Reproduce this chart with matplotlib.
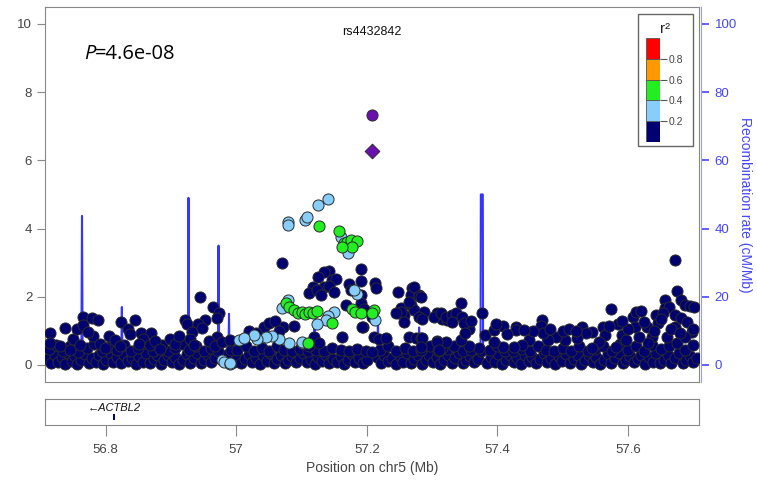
import matplotlib.pyplot as plt
from matplotlib.patches import Rectangle

plt.rcParams['font.family'] = ['Liberation Sans', 'DejaVu Sans']

# ---- data (position in Mb, -log10 p) ----
navy_band = [
    (56.711, 0.18), (56.716, 0.05), (56.722, 0.30), (56.727, 0.10), (56.733, 0.22), (56.738, 0.03),
    (56.742, 0.35), (56.748, 0.12), (56.753, 0.25), (56.757, 0.04), (56.763, 0.15), (56.769, 0.32),
    (56.774, 0.06), (56.779, 0.20), (56.785, 0.10), (56.790, 0.28), (56.796, 0.04), (56.801, 0.16),
    (56.807, 0.34), (56.812, 0.08), (56.818, 0.22), (56.823, 0.05), (56.829, 0.30), (56.834, 0.12),
    (56.840, 0.20), (56.846, 0.03), (56.851, 0.26), (56.857, 0.10), (56.862, 0.36), (56.868, 0.06),
    (56.874, 0.18), (56.879, 0.28), (56.885, 0.04), (56.890, 0.14), (56.896, 0.30), (56.901, 0.08),
    (56.907, 0.22), (56.912, 0.02), (56.918, 0.16), (56.924, 0.32), (56.929, 0.07), (56.935, 0.20),
    (56.940, 0.36), (56.946, 0.05), (56.951, 0.15), (56.957, 0.28), (56.962, 0.08), (56.968, 0.20),
    (56.985, 0.30), (56.996, 0.10), (57.002, 0.25), (57.008, 0.05), (57.013, 0.18), (57.019, 0.33),
    (57.024, 0.08), (57.030, 0.20), (57.036, 0.04), (57.041, 0.28), (57.047, 0.12), (57.052, 0.35),
    (57.058, 0.06), (57.063, 0.18), (57.069, 0.30), (57.075, 0.05), (57.080, 0.14), (57.086, 0.26),
    (57.091, 0.08), (57.097, 0.20), (57.103, 0.34), (57.108, 0.10), (57.114, 0.18), (57.120, 0.04),
    (57.125, 0.24), (57.131, 0.12), (57.137, 0.30), (57.142, 0.06), (57.148, 0.18), (57.154, 0.10),
    (57.160, 0.26), (57.165, 0.04), (57.171, 0.16), (57.177, 0.32), (57.182, 0.08), (57.188, 0.20),
    (57.194, 0.05), (57.200, 0.14), (57.215, 0.22), (57.221, 0.06), (57.227, 0.30), (57.233, 0.12),
    (57.238, 0.20), (57.244, 0.04), (57.250, 0.26), (57.255, 0.10), (57.261, 0.34), (57.267, 0.06),
    (57.272, 0.18), (57.278, 0.28), (57.284, 0.04), (57.290, 0.15), (57.295, 0.30), (57.301, 0.08),
    (57.307, 0.22), (57.312, 0.03), (57.318, 0.16), (57.324, 0.30), (57.330, 0.07), (57.335, 0.20),
    (57.341, 0.35), (57.347, 0.05), (57.352, 0.14), (57.358, 0.26), (57.364, 0.08), (57.370, 0.18),
    (57.384, 0.05), (57.390, 0.22), (57.396, 0.10), (57.401, 0.32), (57.407, 0.04), (57.413, 0.16),
    (57.419, 0.28), (57.425, 0.08), (57.430, 0.20), (57.436, 0.03), (57.442, 0.30), (57.448, 0.12),
    (57.453, 0.22), (57.459, 0.05), (57.465, 0.18), (57.471, 0.34), (57.476, 0.08), (57.482, 0.20),
    (57.488, 0.04), (57.494, 0.26), (57.499, 0.12), (57.505, 0.32), (57.511, 0.06), (57.517, 0.18),
    (57.523, 0.28), (57.528, 0.04), (57.534, 0.15), (57.540, 0.30), (57.546, 0.08), (57.551, 0.22),
    (57.557, 0.03), (57.563, 0.16), (57.569, 0.32), (57.574, 0.07), (57.580, 0.20), (57.586, 0.36),
    (57.592, 0.05), (57.597, 0.14), (57.603, 0.26), (57.609, 0.08), (57.615, 0.18), (57.620, 0.30),
    (57.626, 0.04), (57.632, 0.22), (57.638, 0.10), (57.643, 0.34), (57.649, 0.05), (57.655, 0.16),
    (57.661, 0.28), (57.666, 0.06), (57.672, 0.20), (57.678, 0.35), (57.684, 0.05), (57.689, 0.14),
    (57.695, 0.26), (57.700, 0.08), (57.705, 0.20),
]

navy_low = [
    (56.713, 0.48), (56.724, 0.60), (56.735, 0.42), (56.746, 0.55), (56.758, 0.38), (56.771, 0.50),
    (56.783, 0.62), (56.794, 0.40), (56.805, 0.52), (56.817, 0.45), (56.828, 0.60), (56.839, 0.40),
    (56.850, 0.50), (56.861, 0.65), (56.872, 0.42), (56.884, 0.55), (56.895, 0.40), (56.906, 0.50),
    (56.917, 0.62), (56.928, 0.45), (56.939, 0.55), (56.950, 0.40), (56.961, 0.50), (56.972, 0.40),
    (56.992, 0.45), (57.001, 0.45), (57.015, 0.55), (57.027, 0.40), (57.039, 0.50), (57.050, 0.42),
    (57.062, 0.55), (57.073, 0.45), (57.085, 0.40), (57.098, 0.48), (57.110, 0.40), (57.122, 0.45),
    (57.135, 0.42), (57.147, 0.50), (57.160, 0.45), (57.172, 0.40), (57.185, 0.48), (57.198, 0.42),
    (57.220, 0.45), (57.232, 0.55), (57.245, 0.42), (57.258, 0.50), (57.270, 0.40), (57.283, 0.45),
    (57.296, 0.55), (57.309, 0.40), (57.322, 0.48), (57.334, 0.55), (57.347, 0.42), (57.360, 0.45),
    (57.375, 0.40), (57.388, 0.45), (57.400, 0.55), (57.412, 0.42), (57.424, 0.40), (57.437, 0.48),
    (57.450, 0.42), (57.462, 0.55), (57.475, 0.45), (57.487, 0.40), (57.500, 0.50), (57.512, 0.42),
    (57.525, 0.55), (57.538, 0.40), (57.550, 0.48), (57.562, 0.55), (57.575, 0.42), (57.588, 0.62),
    (57.600, 0.45), (57.612, 0.55), (57.625, 0.42), (57.637, 0.60), (57.650, 0.48), (57.662, 0.55),
    (57.675, 0.65), (57.687, 0.45), (57.699, 0.58),
]

navy_mid = [
    # left part
    (56.715, 0.94), (56.715, 0.64), (56.738, 1.08), (56.750, 0.76), (56.756, 1.05), (56.765, 1.41),
    (56.765, 1.17), (56.779, 1.38), (56.788, 1.32), (56.781, 0.85), (56.773, 0.97), (56.806, 0.85),
    (56.823, 1.26), (56.845, 1.32), (56.835, 1.05), (56.837, 0.91), (56.855, 0.94), (56.869, 0.94),
    (56.857, 0.76), (56.921, 1.32), (56.924, 1.20), (56.944, 2.00), (56.964, 1.70), (56.973, 1.52),
    (56.971, 1.38), (56.952, 1.32), (56.941, 1.20), (56.933, 0.97), (56.948, 1.08), (56.929, 0.76),
    (56.887, 0.59), (56.898, 0.76), (56.971, 0.82), (56.730, 0.55), (56.745, 0.45), (56.761, 0.60),
    (56.791, 0.62), (56.799, 0.50), (56.814, 0.72), (56.822, 0.55), (56.852, 0.62), (56.868, 0.58),
    (56.875, 0.70), (56.883, 0.48), (56.906, 0.62), (56.913, 0.85), (56.936, 0.60), (56.959, 0.70),
    (56.967, 0.55), (56.979, 0.68), (56.990, 0.72),
    # middle peak area
    (57.070, 2.99), (57.142, 2.76), (57.135, 2.73), (57.126, 2.58), (57.146, 2.49), (57.153, 2.52),
    (57.117, 2.29), (57.135, 2.29), (57.142, 2.32), (57.112, 2.11), (57.124, 2.20), (57.150, 2.14),
    (57.130, 2.05), (57.191, 2.82), (57.191, 2.46), (57.173, 2.38), (57.176, 2.20), (57.213, 2.40),
    (57.214, 2.26), (57.191, 2.05), (57.247, 2.14), (57.269, 2.26), (57.268, 2.05), (57.280, 2.05),
    (57.252, 1.67), (57.268, 1.76), (57.272, 1.61), (57.249, 1.52), (57.257, 1.47), (57.285, 1.41),
    (57.287, 1.55), (57.168, 1.76), (57.191, 1.82), (57.196, 1.64), (57.208, 1.41), (57.194, 1.11),
    (57.162, 0.82), (57.119, 0.82), (57.112, 0.56), (57.127, 0.64), (57.043, 1.11), (57.051, 1.23),
    (57.071, 1.11), (57.020, 1.00), (57.030, 0.95), (57.060, 1.30), (57.065, 1.00), (57.088, 1.15),
    (57.272, 2.29), (57.280, 2.02), (57.264, 1.85), (57.252, 1.55), (57.245, 1.52), (57.257, 1.26),
    (57.280, 1.41), (57.285, 1.35), (57.307, 1.52), (57.315, 1.35), (57.322, 1.32), (57.264, 0.82),
    (57.275, 0.79), (57.283, 0.79), (57.307, 0.70), (57.315, 0.50), (57.193, 1.11), (57.211, 0.82),
    (57.219, 0.76), (57.229, 0.79), (57.208, 0.38),
    # right part
    (57.283, 1.99), (57.303, 1.41), (57.313, 1.52), (57.321, 1.41), (57.330, 1.47), (57.336, 1.52),
    (57.344, 1.82), (57.345, 1.41), (57.356, 1.05), (57.348, 1.23), (57.376, 1.52), (57.381, 0.88),
    (57.394, 1.03), (57.409, 1.14), (57.428, 1.11), (57.428, 1.03), (57.468, 1.32), (57.466, 1.14),
    (57.530, 1.11), (57.562, 1.11), (57.544, 0.97), (57.535, 0.94), (57.574, 1.64), (57.565, 0.88),
    (57.590, 0.88), (57.608, 1.41), (57.612, 1.55), (57.620, 1.58), (57.611, 1.11), (57.629, 1.11),
    (57.642, 1.47), (57.646, 1.23), (57.657, 1.91), (57.657, 1.67), (57.662, 1.70), (57.654, 1.52),
    (57.671, 3.08), (57.675, 2.17), (57.681, 1.91), (57.687, 1.76), (57.695, 1.73), (57.701, 1.70),
    (57.672, 1.11), (57.672, 1.47), (57.681, 1.38), (57.697, 0.97), (57.687, 0.82), (57.659, 0.82),
    (57.636, 0.82), (57.631, 0.64), (57.616, 0.82), (57.597, 0.73), (57.582, 0.53), (57.555, 0.67),
    (57.544, 0.50), (57.521, 0.79), (57.504, 0.73), (57.489, 0.82), (57.478, 0.73), (57.448, 0.73),
    (57.437, 0.59), (57.425, 0.53), (57.409, 0.53), (57.394, 0.67), (57.371, 0.50), (57.356, 0.56),
    (57.344, 0.73), (57.321, 0.67), (57.307, 0.67), (57.285, 0.79), (57.283, 0.53), (57.310, 0.44),
    (57.585, 1.20), (57.600, 1.05), (57.590, 1.30), (57.570, 1.15), (57.624, 1.25), (57.639, 1.00),
    (57.650, 1.35), (57.690, 1.25), (57.700, 1.05), (57.665, 1.05), (57.680, 0.95), (57.470, 0.95),
    (57.455, 1.00), (57.480, 1.05), (57.500, 1.00), (57.510, 1.05), (57.520, 1.00), (57.398, 1.20),
    (57.440, 1.02), (57.415, 0.90), (57.360, 1.30), (57.330, 1.25), (57.350, 0.95),
]

lightblue_pts = [
    (56.979, 0.15), (56.982, 0.09), (56.990, 0.03), (56.990, 0.06), (57.079, 4.19), (57.079, 4.10),
    (57.106, 4.25), (57.109, 4.34), (57.126, 4.69), (57.141, 4.87), (57.161, 3.75), (57.171, 3.28),
    (57.185, 2.08), (57.181, 2.20), (57.213, 1.32), (57.149, 1.55), (57.141, 1.44), (57.138, 1.32),
    (57.124, 1.20), (57.079, 1.91), (57.070, 1.67), (57.100, 0.64), (57.101, 0.67), (57.081, 0.64),
    (57.066, 0.76), (57.055, 0.85), (57.046, 0.82), (57.032, 0.76), (57.028, 0.88), (57.005, 0.72),
    (57.012, 0.80),
]

green_pts = [
    (57.127, 4.08), (57.158, 3.93), (57.165, 3.58), (57.170, 3.60), (57.176, 3.67), (57.185, 3.64),
    (57.178, 3.46), (57.162, 3.46), (57.076, 1.82), (57.081, 1.70), (57.089, 1.61), (57.094, 1.52),
    (57.100, 1.55), (57.106, 1.50), (57.112, 1.55), (57.117, 1.52), (57.123, 1.58), (57.147, 1.23),
    (57.178, 1.64), (57.182, 1.55), (57.191, 1.52), (57.211, 1.61), (57.208, 1.52), (57.110, 0.64),
]

top_snp = (57.208, 7.33)      # purple circle
ref_snp = (57.208, 6.27)      # purple diamond, rs4432842

recomb_pos = [56.708, 56.735, 56.763, 56.764, 56.765, 56.800, 56.824, 56.825, 56.826, 56.870,
              56.900, 56.926, 56.927, 56.928, 56.950, 56.972, 56.973, 56.974, 56.988, 56.989,
              56.990, 57.050, 57.119, 57.120, 57.121, 57.160, 57.216, 57.217, 57.218, 57.250,
              57.279, 57.280, 57.281, 57.340, 57.355, 57.374, 57.3745, 57.3775, 57.378, 57.420,
              57.469, 57.470, 57.471, 57.540, 57.600, 57.660, 57.708]
recomb_rate = [1.0, 0.5, 0.8, 43.7, 0.6, 0.3, 0.8, 17.0, 0.5, 0.4,
               0.8, 1.0, 49.0, 1.5, 0.6, 1.2, 35.0, 2.0, 1.5, 15.0,
               0.5, 0.4, 0.5, 12.0, 1.0, 1.2, 1.5, 14.0, 2.0, 2.5,
               2.0, 11.0, 3.5, 3.5, 0.5, 0.5, 50.0, 50.0, 0.3, 0.5,
               0.5, 13.0, 0.8, 0.6, 0.3, 0.5, 0.2]

r2_colors = ['#000070', '#87cefa', '#22ee22', '#ff9900', '#ff0000']
r2_ticks = [0.2, 0.4, 0.6, 0.8]
x_ticks = [56.8, 57.0, 57.2, 57.4, 57.6]
x_ticklabels = ['56.8', '57', '57.2', '57.4', '57.6']
gene_name = 'ACTBL2'
gene_start, gene_end = 56.8115, 56.8145

GRAY = '#888888'
TXT = '#444444'
BLUE = '#4545ff'
XLIM = (56.708, 57.708)

fig = plt.figure(figsize=(7.57, 4.87), dpi=100)

# ---- main association panel ----
ax = fig.add_axes([0.060, 0.2162, 0.863, 0.769])
ax2 = ax.twinx()
ax.set_zorder(ax2.get_zorder() + 1)
ax.patch.set_visible(False)

ax2.plot(recomb_pos, recomb_rate, color='#3535ff', lw=1.5)
ax2.set_ylim(-4.9, 104.9)
ax2.set_yticks([0, 20, 40, 60, 80, 100])
ax2.tick_params(axis='y', colors=BLUE, labelsize=9.5, length=6, width=1.2)
for s in ['left', 'top', 'bottom']:
    ax2.spines[s].set_visible(False)
ax2.spines['right'].set_color('#9a9aff')
ax2.spines['right'].set_position(('outward', 2))

def scatter(pts, color, marker='o', s=64):
    xs = [p[0] for p in pts]
    ys = [p[1] for p in pts]
    ax.scatter(xs, ys, s=s, c=color, marker=marker, edgecolors='#2b2b2b', linewidths=0.7, zorder=3)

scatter(navy_band, r2_colors[0])
scatter(navy_low, r2_colors[0])
scatter(navy_mid, r2_colors[0])
scatter(lightblue_pts, r2_colors[1])
scatter(green_pts, r2_colors[2])
scatter([top_snp], '#6a10b0')
scatter([ref_snp], '#6a10b0', marker='D', s=56)

ax.set_xlim(*XLIM)
ax.set_ylim(-0.49, 10.49)
ax.set_yticks([0, 2, 4, 6, 8, 10])
ax.set_xticks([])
ax.tick_params(axis='y', colors=GRAY, labelcolor=TXT, labelsize=9.5, length=6)
for s in ax.spines.values():
    s.set_color(GRAY)

ax.text(57.208, 0.934, 'rs4432842', transform=ax.get_xaxis_transform(),
        ha='center', va='center', fontsize=9, color='#111111')

p_txt = ax.text(0.059, 0.862, 'P', transform=ax.transAxes, fontsize=14.5,
                family='Open Sans', style='italic', va='baseline')
ax.annotate('=4.6e-08', xy=(1, 0), xycoords=p_txt, fontsize=14.5,
            family='Open Sans', va='bottom')

fig.text(745 / 757, 1 - 205 / 487, 'Recombination rate (cM/Mb)', rotation=270,
         ha='center', va='center', fontsize=10, color=BLUE)

# ---- r2 legend ----
fig.add_artist(Rectangle((638 / 757, 1 - 146 / 487), 55 / 757, 132 / 487,
                         transform=fig.transFigure, facecolor='white',
                         edgecolor='#666666', lw=1, zorder=5))
axl = fig.add_axes([646 / 757, 1 - 142 / 487, 14 / 757, 104 / 487], zorder=6)
for i, c in enumerate(r2_colors):
    axl.add_patch(Rectangle((0, i * 0.2), 1, 0.2, facecolor=c, edgecolor='#555555', lw=0.6))
axl.set_xlim(0, 1)
axl.set_ylim(0, 1)
axl.set_xticks([])
axl.set_yticks(r2_ticks)
axl.set_yticklabels([str(t) for t in r2_ticks])
axl.yaxis.tick_right()
axl.tick_params(axis='y', colors='#555555', labelcolor=TXT, labelsize=7.5, length=5, pad=1)
for s in axl.spines.values():
    s.set_visible(False)
fig.text(665 / 757, 1 - 29 / 487, 'r\u00b2', ha='center', va='center', fontsize=11, color='#222222', zorder=7)

# ---- gene track ----
axg = fig.add_axes([0.060, 1 - 425 / 487, 0.863, 26 / 487])
axg.set_xlim(*XLIM)
axg.set_ylim(0, 1)
axg.set_yticks([])
axg.set_xticks(x_ticks)
axg.set_xticklabels(x_ticklabels)
axg.tick_params(axis='x', colors=GRAY, labelcolor=TXT, labelsize=9.5, length=8, pad=6)
for s in axg.spines.values():
    s.set_color(GRAY)
axg.add_patch(Rectangle((gene_start, 0.2), gene_end - gene_start, 0.22,
                        facecolor='#000080', edgecolor='none'))
axg.text((gene_start + gene_end) / 2, 0.64, '\u2190' + gene_name, ha='center', va='center',
         fontsize=8, style='italic', color='#111111',
         family=['Liberation Sans', 'DejaVu Sans'])

fig.text(372 / 757, 1 - 468 / 487, 'Position on chr5 (Mb)', ha='center', va='center',
         fontsize=10, color=TXT)

fig.savefig('out.png', dpi=100)
